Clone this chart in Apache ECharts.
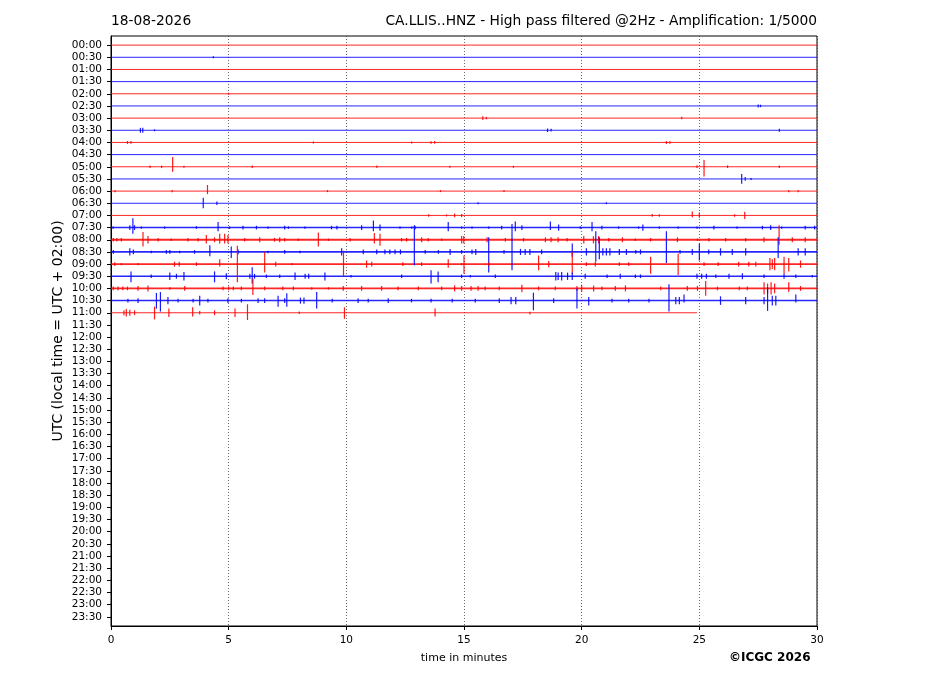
<!DOCTYPE html>
<html><head><meta charset="utf-8">
<script src="https://cdn.jsdelivr.net/npm/echarts@6/dist/echarts.min.js"></script>
<style>html,body{margin:0;padding:0;background:#fff}#c{width:927px;height:696px}</style>
</head><body><div id="c"></div>
<script>
// Row labels (UTC half hours)
const timeLabels = ["00:00","00:30","01:00","01:30","02:00","02:30","03:00","03:30","04:00","04:30","05:00","05:30","06:00","06:30","07:00","07:30","08:00","08:30","09:00","09:30","10:00","10:30","11:00","11:30","12:00","12:30","13:00","13:30","14:00","14:30","15:00","15:30","16:00","16:30","17:00","17:30","18:00","18:30","19:00","19:30","20:00","20:30","21:00","21:30","22:00","22:30","23:00","23:30"];
// minute at which each recorded trace ends (rows 00:00 .. 11:00)
const traceEndMinute = [30,30,30,30,30,30,30,30,30,30,30,30,30,30,30,30,30,30,30,30,30,30,24.9];
// background noise half-amplitude per trace (row units)
const traceNoise = [0.02,0.02,0.02,0.03,0.02,0.02,0.02,0.02,0.03,0.03,0.03,0.02,0.03,0.03,0.03,0.06,0.08,0.07,0.07,0.06,0.07,0.06,0.03];

// events per trace: [minute, amplitude up, amplitude down] (row units)
const ev0000 = [];
const ev0030 = [[4.35,0.05,0.05]];
const ev0100 = [];
const ev0130 = [];
const ev0200 = [[5.0,0.08,0.08]];
const ev0230 = [[27.5,0.12,0.12],[27.6,0.1,0.1]];
const ev0300 = [[15.8,0.15,0.15],[15.95,0.1,0.1],[24.25,0.12,0.1]];
const ev0330 = [[1.25,0.2,0.2],[1.35,0.2,0.2],[1.85,0.08,0.08],[18.55,0.15,0.15],[18.7,0.12,0.1],[28.4,0.12,0.12]];
const ev0400 = [[0.7,0.12,0.12],[0.85,0.12,0.1],[8.6,0.06,0.06],[12.78,0.06,0.06],[13.6,0.1,0.1],[13.75,0.12,0.1],[23.6,0.12,0.12],[23.75,0.1,0.1]];
const ev0430 = [];
const ev0500 = [[1.66,0.1,0.1],[2.15,0.1,0.1],[2.62,0.8,0.4],[3.1,0.08,0.08],[6.0,0.1,0.1],[11.3,0.1,0.1],[14.4,0.08,0.08],[17.1,0.08,0.08],[24.9,0.12,0.1],[25.2,0.55,0.8],[26.2,0.12,0.1],[28.4,0.1,0.1]];
const ev0530 = [[26.8,0.4,0.4],[26.95,0.15,0.15],[27.2,0.08,0.08]];
const ev0600 = [[0.17,0.1,0.1],[2.6,0.1,0.1],[4.1,0.5,0.25],[9.2,0.06,0.06],[14.0,0.08,0.08],[16.7,0.08,0.08],[28.8,0.1,0.1],[29.2,0.1,0.1]];
const ev0630 = [[3.92,0.45,0.4],[4.5,0.15,0.15],[15.6,0.08,0.08],[21.05,0.08,0.08]];
const ev0700 = [[13.5,0.1,0.1],[14.26,0.08,0.08],[14.6,0.15,0.15],[14.9,0.12,0.12],[23.0,0.12,0.1],[23.3,0.1,0.1],[24.7,0.33,0.15],[25.0,0.25,0.2],[26.5,0.1,0.1],[26.93,0.3,0.3]];
const ev0730 = [[0.09,0.1,0.1],[0.8,0.2,0.2],[0.93,0.77,0.5],[1.0,0.2,0.2],[1.29,0.1,0.1],[2.28,0.1,0.1],[3.63,0.12,0.1],[4.55,0.45,0.3],[5.04,0.1,0.1],[5.61,0.15,0.15],[6.18,0.15,0.15],[6.67,0.1,0.1],[7.38,0.15,0.15],[7.54,0.1,0.1],[8.24,0.1,0.1],[9.37,0.15,0.15],[9.6,0.15,0.15],[10.65,0.2,0.2],[11.15,0.58,0.3],[11.43,0.25,0.25],[12.28,0.1,0.1],[12.78,0.1,0.1],[12.92,0.15,0.15],[14.33,0.45,0.3],[14.9,0.1,0.1],[15.34,0.1,0.1],[16.05,0.1,0.1],[16.6,0.15,0.15],[17.18,0.5,0.3],[17.46,0.2,0.2],[18.67,0.5,0.2],[19.02,0.25,0.25],[19.94,0.1,0.1],[20.44,0.45,0.3],[20.86,0.15,0.15],[21.57,0.1,0.1],[22.42,0.1,0.1],[22.6,0.25,0.25],[23.3,0.1,0.1],[24.1,0.1,0.1],[24.9,0.1,0.1],[25.62,0.15,0.15],[26.6,0.1,0.1],[27.68,0.15,0.15],[28.03,0.2,0.2],[28.5,0.1,0.1],[29.5,0.15,0.15],[29.9,0.15,0.15]];
const ev0800 = [[0.1,0.15,0.15],[0.25,0.15,0.15],[0.44,0.15,0.15],[1.36,0.63,0.55],[1.57,0.3,0.3],[2.0,0.15,0.15],[2.56,0.1,0.1],[3.27,0.15,0.15],[3.7,0.15,0.15],[4.05,0.4,0.3],[4.4,0.2,0.2],[4.62,0.5,0.3],[4.83,0.5,0.3],[4.97,0.4,0.3],[5.68,0.15,0.15],[6.32,0.2,0.2],[6.95,0.15,0.15],[7.17,0.2,0.2],[7.38,0.15,0.15],[7.96,0.1,0.1],[8.81,0.6,0.55],[9.24,0.1,0.1],[10.16,0.15,0.15],[11.19,0.55,0.3],[11.43,0.5,0.5],[12.35,0.15,0.15],[12.56,0.15,0.15],[13.2,0.2,0.2],[13.48,0.15,0.15],[14.05,0.1,0.1],[14.9,0.3,0.3],[14.99,0.3,0.3],[15.98,0.2,0.2],[16.76,0.15,0.15],[17.04,0.1,0.1],[17.53,0.15,0.15],[18.46,0.2,0.2],[18.7,0.2,0.2],[19.0,0.2,0.2],[19.38,0.15,0.15],[20.09,0.3,0.3],[20.5,0.3,0.3],[20.72,0.3,0.3],[21.15,0.15,0.15],[21.73,0.2,0.2],[22.28,0.1,0.1],[22.93,0.15,0.15],[24.07,0.2,0.2],[24.92,0.1,0.1],[25.41,0.15,0.15],[26.12,0.15,0.15],[26.97,0.15,0.15],[27.75,0.2,0.2],[28.39,1.2,0.4],[28.95,0.2,0.2],[29.5,0.2,0.2]];
const ev0830 = [[0.1,0.15,0.15],[0.8,0.3,0.3],[0.95,0.2,0.2],[1.71,0.1,0.1],[2.35,0.15,0.15],[2.5,0.15,0.15],[2.92,0.1,0.1],[3.55,0.15,0.15],[4.2,0.55,0.35],[5.11,0.45,0.5],[5.4,0.2,0.2],[6.67,0.1,0.1],[7.38,0.15,0.15],[8.03,0.1,0.1],[9.8,0.3,0.3],[10.72,0.2,0.2],[11.29,0.2,0.2],[11.64,0.2,0.2],[11.85,0.2,0.2],[12.07,0.2,0.2],[12.3,0.2,0.2],[12.89,2.2,1.1],[13.35,0.15,0.15],[13.91,0.15,0.15],[14.41,0.25,0.25],[14.9,0.15,0.15],[15.34,0.2,0.2],[15.5,0.25,0.25],[16.05,1.2,1.7],[16.7,0.15,0.15],[17.04,2.3,1.5],[17.4,0.25,0.25],[17.6,0.25,0.25],[17.8,0.25,0.25],[18.3,0.2,0.2],[19.6,0.7,0.4],[20.2,0.3,0.3],[20.6,1.7,0.8],[20.75,1.2,0.6],[20.9,0.3,0.3],[21.05,0.3,0.3],[21.2,0.3,0.3],[21.6,0.25,0.25],[21.9,0.25,0.25],[22.3,0.15,0.15],[22.5,0.2,0.2],[23.6,1.7,0.9],[24.18,0.15,0.15],[24.7,0.25,0.25],[25.0,0.7,0.7],[25.4,0.2,0.2],[25.9,0.3,0.3],[26.4,0.25,0.25],[26.97,0.3,0.3],[28.35,1.2,0.5],[29.2,0.3,0.3],[29.5,0.3,0.3]];
const ev0900 = [[0.16,0.15,0.15],[0.44,0.1,0.1],[1.15,0.1,0.1],[2.7,0.2,0.2],[2.9,0.2,0.2],[3.63,0.15,0.15],[4.62,0.4,0.2],[5.37,1.5,1.5],[6.53,1.0,0.7],[7.0,0.2,0.2],[7.68,0.1,0.1],[9.88,1.1,1.0],[10.86,0.3,0.3],[11.08,0.2,0.2],[12.4,0.15,0.15],[13.2,0.15,0.15],[14.33,0.4,0.3],[14.9,0.1,0.1],[15.0,0.7,0.8],[16.05,0.15,0.15],[18.17,0.7,0.5],[18.6,0.25,0.25],[19.6,1.0,0.8],[20.2,0.15,0.15],[20.58,0.2,0.2],[21.6,0.15,0.15],[22.0,0.15,0.15],[22.93,0.6,0.8],[24.1,0.85,0.9],[25.2,0.15,0.15],[25.8,0.15,0.15],[26.67,0.2,0.2],[27.1,0.2,0.2],[27.4,0.2,0.2],[28.0,0.5,0.5],[28.1,0.4,0.4],[28.2,0.5,0.5],[28.6,0.6,0.8],[28.8,0.5,0.6],[29.3,0.3,0.3]];
const ev0930 = [[0.85,0.4,0.5],[1.71,0.15,0.15],[2.5,0.3,0.3],[2.78,0.2,0.2],[3.1,0.35,0.35],[4.4,0.4,0.5],[4.9,0.25,0.25],[5.9,0.2,0.2],[6.0,0.75,0.6],[6.1,0.2,0.2],[6.6,0.15,0.15],[7.17,0.15,0.15],[7.82,0.3,0.3],[8.25,0.2,0.2],[8.4,0.2,0.2],[9.09,0.3,0.35],[10.2,0.1,0.1],[12.35,0.15,0.15],[13.6,0.5,0.6],[13.9,0.4,0.5],[14.9,0.15,0.15],[15.27,0.1,0.1],[16.33,0.15,0.15],[18.9,0.35,0.35],[19.0,0.3,0.3],[19.15,0.35,0.35],[19.4,0.3,0.3],[19.6,0.3,0.3],[20.15,0.2,0.2],[21.08,0.15,0.15],[21.64,0.2,0.2],[22.28,0.15,0.15],[22.5,0.15,0.15],[24.9,0.2,0.2],[25.1,0.2,0.2],[25.3,0.2,0.2],[25.7,0.15,0.15],[26.26,0.2,0.2],[26.83,0.25,0.25],[27.75,0.15,0.15],[28.6,0.2,0.2],[29.1,0.15,0.15],[29.8,0.1,0.1]];
const ev1000 = [[0.1,0.15,0.15],[0.3,0.15,0.15],[0.5,0.15,0.15],[0.7,0.15,0.15],[1.15,0.2,0.2],[1.57,0.25,0.25],[2.5,0.1,0.1],[3.13,0.2,0.2],[4.76,0.15,0.15],[5.0,0.15,0.15],[5.2,0.15,0.15],[5.54,0.15,0.15],[6.03,0.8,0.55],[6.53,0.15,0.15],[7.3,0.15,0.15],[7.75,0.15,0.15],[8.53,0.1,0.1],[9.24,0.1,0.1],[9.87,0.2,0.2],[10.65,0.2,0.2],[11.5,0.2,0.2],[12.2,0.15,0.15],[13.06,0.15,0.15],[14.05,0.15,0.15],[14.6,0.25,0.25],[14.9,0.2,0.2],[15.3,0.2,0.2],[15.6,0.2,0.2],[15.9,0.15,0.15],[16.5,0.15,0.15],[17.46,0.3,0.3],[18.17,0.15,0.15],[18.88,0.15,0.15],[19.8,0.2,0.2],[20.0,0.3,0.3],[20.51,0.25,0.25],[20.86,0.15,0.15],[21.43,0.2,0.2],[21.86,0.25,0.25],[23.36,0.15,0.15],[24.49,0.2,0.2],[24.92,0.2,0.2],[25.27,0.6,0.6],[25.77,0.15,0.15],[26.7,0.15,0.15],[27.04,0.15,0.15],[27.75,0.5,0.5],[27.9,0.4,0.4],[28.05,0.5,0.5],[28.2,0.4,0.4],[28.8,0.5,0.3],[29.3,0.2,0.2]];
const ev1030 = [[0.72,0.15,0.15],[1.15,0.2,0.2],[1.93,0.63,0.66],[2.1,0.7,0.9],[2.42,0.3,0.3],[2.85,0.15,0.15],[3.49,0.15,0.15],[3.77,0.4,0.4],[4.12,0.15,0.15],[4.97,0.2,0.2],[5.54,0.15,0.15],[6.25,0.2,0.2],[6.53,0.2,0.2],[7.1,0.4,0.5],[7.38,0.2,0.2],[7.47,0.6,0.5],[8.05,0.25,0.25],[8.2,0.25,0.25],[8.74,0.7,0.66],[9.4,0.15,0.15],[10.5,0.2,0.2],[10.93,0.15,0.15],[11.78,0.2,0.2],[12.77,0.15,0.15],[13.6,0.15,0.15],[14.5,0.15,0.15],[15.48,0.15,0.15],[16.5,0.2,0.2],[17.0,0.3,0.3],[17.2,0.3,0.3],[17.95,0.65,0.8],[18.81,0.2,0.2],[19.8,1.0,0.65],[20.3,0.3,0.4],[21.29,0.15,0.15],[22.0,0.15,0.15],[22.86,0.15,0.15],[23.71,1.35,0.9],[24.0,0.3,0.3],[24.15,0.3,0.3],[24.35,0.5,0.15],[25.9,0.35,0.35],[26.97,0.3,0.3],[27.75,0.3,0.3],[27.9,1.1,0.85],[28.1,0.4,0.4],[28.25,0.4,0.4],[29.1,0.5,0.15]];
const ev1100 = [[0.55,0.2,0.2],[0.65,0.3,0.3],[0.8,0.25,0.25],[1.0,0.2,0.2],[1.85,0.5,0.55],[2.46,0.35,0.35],[3.47,0.45,0.3],[3.77,0.15,0.15],[4.4,0.2,0.2],[5.27,0.35,0.35],[5.8,0.7,0.6],[8.0,0.1,0.1],[9.92,0.45,0.5],[13.77,0.35,0.3],[17.8,0.05,0.15]];

const traceEvents = [ev0000,ev0030,ev0100,ev0130,ev0200,ev0230,ev0300,ev0330,ev0400,ev0430,ev0500,ev0530,ev0600,ev0630,ev0700,ev0730,ev0800,ev0830,ev0900,ev0930,ev1000,ev1030,ev1100];
const traceColors = ['#ff0000','#0000ff'];

// flatten into rows for custom series
const baselineData = traceEndMinute.map((end, row) => [0, row, end, traceNoise[row]]);
const spikeData = [];
traceEvents.forEach((ev, row) => ev.forEach(([t, up, down]) => spikeData.push([t, row, up, down])));

function renderBaseline(params, api) {
  const row = api.value(1);
  const p0 = api.coord([api.value(0), row]);
  const p1 = api.coord([api.value(2), row]);
  const band = api.size([0, 2 * api.value(3)])[1];
  return { type: 'line', shape: { x1: p0[0], y1: p0[1], x2: p1[0], y2: p1[1] },
    style: { stroke: traceColors[row % 2], lineWidth: Math.max(1, band), opacity: 0.85 } };
}
function renderSpike(params, api) {
  const t = api.value(0), row = api.value(1);
  const base = api.coord([t, row]);
  const top = api.coord([t, row - api.value(2)]);
  const bot = api.coord([t, row + api.value(3)]);
  return { type: 'line', shape: { x1: base[0], y1: Math.min(top[1], base[1] - 1), x2: base[0], y2: Math.max(bot[1], base[1] + 1) },
    style: { stroke: traceColors[row % 2], lineWidth: 1.2, opacity: 0.9 } };
}

const rowValues = timeLabels.map((_, i) => i);
const FONT = 'DejaVu Sans';
const chart = echarts.init(document.getElementById('c'), null, { renderer: 'canvas' });
chart.setOption({
  animation: false,
  backgroundColor: '#fff',
  title: [
    { text: '18-08-2026', left: 111, top: 14, padding: 0, textStyle: { fontFamily: FONT, fontSize: 13.8, fontWeight: 'normal', color: '#000' } },
    { text: 'CA.LLIS..HNZ - High pass filtered @2Hz - Amplification: 1/5000', right: 110, top: 14, padding: 0, textStyle: { fontFamily: FONT, fontSize: 13.8, fontWeight: 'normal', color: '#000' } }
  ],
  graphic: [
    { type: 'text', left: 729, top: 652, style: { text: '©ICGC 2026', font: 'bold 12px "DejaVu Sans"', fill: '#000' } }
  ],
  grid: { left: 111, right: 110, top: 36, bottom: 70, show: true, borderColor: '#000', borderWidth: 1, containLabel: false },
  xAxis: {
    type: 'value', min: 0, max: 30, interval: 5,
    name: 'time in minutes', nameLocation: 'middle', nameGap: 27, nameMoveOverlap: false,
    nameTextStyle: { fontFamily: FONT, fontSize: 11, color: '#000' },
    axisLine: { show: true, onZero: false, lineStyle: { color: '#000', width: 1 } },
    axisTick: { show: true, length: 4, lineStyle: { color: '#000' } },
    axisLabel: { fontFamily: FONT, fontSize: 10.5, color: '#000', margin: 9 },
    splitLine: { show: true, lineStyle: { color: '#444', width: 0.8, type: [1, 2] } }
  },
  yAxis: {
    type: 'value', inverse: true, min: -0.75, max: 47.75,
    name: 'UTC (local time = UTC + 02:00)', nameLocation: 'middle', nameGap: 46, nameRotate: 90, nameMoveOverlap: false,
    nameTextStyle: { fontFamily: FONT, fontSize: 14, color: '#000' },
    axisLine: { show: true, onZero: false, lineStyle: { color: '#000', width: 1 } },
    axisTick: { show: true, length: 4, customValues: rowValues, lineStyle: { color: '#000' } },
    axisLabel: { fontFamily: FONT, fontSize: 10.5, color: '#000', margin: 9, customValues: rowValues, formatter: v => timeLabels[Math.round(v)] },
    splitLine: { show: false }
  },
  series: [
    { type: 'custom', renderItem: renderBaseline, data: baselineData, silent: true, clip: true, animation: false, z: 2 },
    { type: 'custom', renderItem: renderSpike, data: spikeData, silent: true, clip: true, animation: false, z: 3 }
  ]
});
</script></body></html>
